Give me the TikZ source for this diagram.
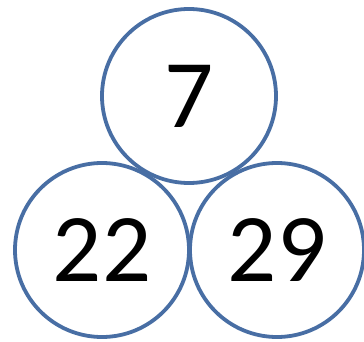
\documentclass[tikz,border=0pt]{standalone}
\usepackage{fontspec}
\setmainfont{Carlito}
\usepackage{tikz}

\definecolor{ringblue}{RGB}{72,110,164}

\begin{document}
\begin{tikzpicture}[x=1pt,y=-1pt,
    numcircle/.style={circle, draw=ringblue, line width=3.8pt, minimum size=174pt,
        inner sep=0pt, font=\fontsize{97}{97}\selectfont}]

    \useasboundingbox (0,0) rectangle (364,342);

    % three numbers in touching rings
    \node[numcircle] (top)   at (189,96)  {7};
    \node[numcircle] (left)  at (102,250) {22};
    \node[numcircle] (right) at (277,250) {29};

\end{tikzpicture}
\end{document}
